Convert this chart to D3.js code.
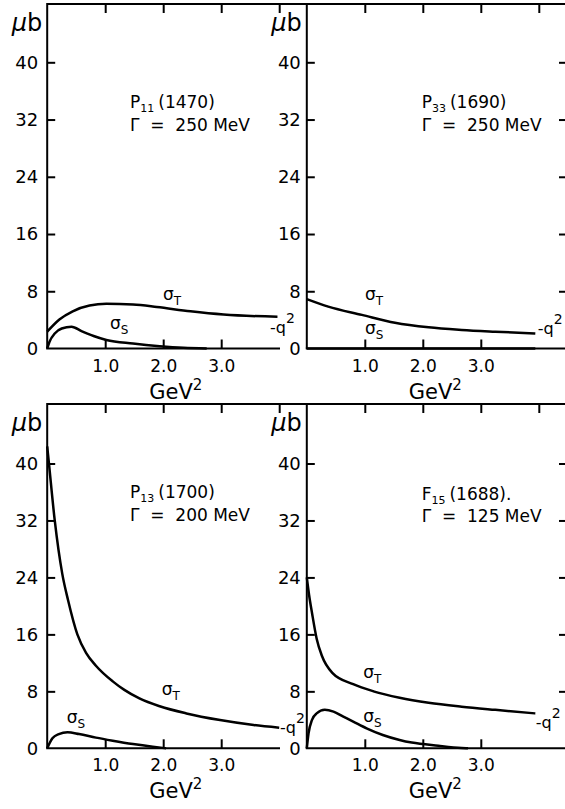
<!DOCTYPE html>
<html>
<head>
<meta charset="utf-8">
<script src="https://cdn.jsdelivr.net/npm/d3@7"></script>
<style>
    body { margin: 0; background: #fff; }
    svg { display: block; }
    text { font-family: "DejaVu Sans", sans-serif; fill: #000; }
</style>
</head>
<body>
<div id="chart"></div>
<script>
const width = 565,
    height = 809,
    unitX = 58;

// axis ticks
const yTicks = [0, 8, 16, 24, 32, 40];
const xTopTicks = [1, 2, 3, 4];
const xBottomTicks = [1, 2, 3];
const xTickLabels = ["1.0", "2.0", "3.0"];

// resonances
const resNames = ["P", "P", "P", "F"];
const resSubs = ["11", "33", "13", "15"];
const resMasses = ["(1470)", "(1690)", "(1700)", "(1688)."];
const resWidths = ["250", "250", "200", "125"];

// P11 (1470)
const p11TQ = [0, 0.21, 0.44, 0.73, 1.02, 1.48, 1.89, 2.47, 3.04, 3.97];
const p11SigmaT = [2.35, 4.05, 5.2, 6.0, 6.24, 6.14, 5.8, 5.2, 4.75, 4.43];
const p11SQ = [0, 0.04, 0.13, 0.25, 0.42, 0.6, 0.8, 1.02, 1.48, 1.94, 2.35, 2.75];
const p11SigmaS = [0, 0.95, 2.1, 2.8, 3.05, 2.4, 1.75, 1.2, 0.7, 0.33, 0.1, 0];

// P33 (1690)
const p33TQ = [0, 0.37, 0.95, 1.52, 2.1, 2.67, 3.25, 3.94];
const p33SigmaT = [6.9, 5.85, 4.7, 3.6, 2.96, 2.6, 2.35, 2.1];
const p33SQ = [0, 3.94];
const p33SigmaS = [0, 0];

// P13 (1700)
const p13TQ = [0, 0.03, 0.13, 0.26, 0.36, 0.52, 0.67, 0.84, 1.13, 1.33, 1.59, 1.94, 2.4, 2.98, 3.56, 4.0];
const p13SigmaT = [42.4, 40, 32, 24.5, 20.8, 16, 13.4, 11.6, 9.4, 8.2, 7.0, 5.9, 4.9, 3.97, 3.27, 2.9];
const p13SQ = [0, 0.09, 0.2, 0.35, 0.55, 0.84, 1.13, 1.48, 1.82, 2.05];
const p13SigmaS = [0, 1.4, 2.0, 2.25, 2.0, 1.5, 1.07, 0.6, 0.22, 0];

// F15 (1688)
const f15TQ = [0, 0.04, 0.09, 0.17, 0.26, 0.44, 0.8, 1.15, 1.6, 2.1, 2.67, 3.25, 3.94];
const f15SigmaT = [24, 21.5, 19, 15.4, 13.0, 10.6, 9.0, 8.0, 7.1, 6.4, 5.85, 5.4, 4.9];
const f15SQ = [0, 0.03, 0.09, 0.17, 0.31, 0.46, 0.63, 0.8, 1.03, 1.31, 1.6, 1.81, 2.27, 2.67, 2.78];
const f15SigmaS = [0, 2.1, 4.0, 4.9, 5.4, 5.15, 4.45, 3.75, 2.8, 1.87, 1.17, 0.8, 0.36, 0.05, 0];

const curvesT = [[p11TQ, p11SigmaT], [p33TQ, p33SigmaT], [p13TQ, p13SigmaT], [f15TQ, f15SigmaT]];
const curvesS = [[p11SQ, p11SigmaS], [p33SQ, p33SigmaS], [p13SQ, p13SigmaS], [f15SQ, f15SigmaS]];

// panel placement, label offsets are relative to (x0, top)
const layout = [
    { x0: 47.2, top: 4, yZero: 348.5, y40: 62.3, topEnd: 306.8, axisEnd: 280, edge: false, pad: 9,
      title: [82.8, 104], gamma: [82.8, 126.5], sT: [115.8, 296], sS: [62.8, 325], q2: [222.8, 329] },
    { x0: 306.8, top: 4, yZero: 348.5, y40: 62.3, topEnd: 566, axisEnd: 566, edge: true, pad: 6,
      title: [114.9, 104], gamma: [114.9, 126.5], sT: [58.2, 296], sS: [58.2, 330], q2: [230.9, 330] },
    { x0: 47.2, top: 404, yZero: 748.3, y40: 463.5, topEnd: 306.8, axisEnd: 280, edge: false, pad: 9,
      title: [82.8, 94], gamma: [82.8, 116.5], sT: [114.5, 291], sS: [19.5, 319], q2: [232.8, 329] },
    { x0: 306.8, top: 404, yZero: 748.3, y40: 463.5, topEnd: 566, axisEnd: 566, edge: true, pad: 6,
      title: [114.9, 95.5], gamma: [114.9, 118], sT: [56.5, 274], sS: [56.5, 317.5], q2: [228.9, 324] }
];

const svg = d3
    .select("#chart")
    .append("svg")
    .attr("width", width)
    .attr("height", height);

function styleAxis(g, size) {
    g.select(".domain").remove();
    g.selectAll(".tick line").attr("stroke-width", 2);
    g.selectAll("text").attr("font-size", size);
}

layout.forEach((p, i) => {
    const xScale = d3
        .scaleLinear()
        .domain([0, 4])
        .range([p.x0, p.x0 + 4 * unitX]);
    const yScale = d3
        .scaleLinear()
        .domain([0, 40])
        .range([p.yZero, p.y40]);
    const g = svg.append("g");

    // frame
    g.append("path")
        .attr("d", "M" + p.x0 + "," + p.yZero + "V" + p.top + "H" + p.topEnd)
        .attr("fill", "none")
        .attr("stroke", "#000")
        .attr("stroke-width", 2);
    g.append("line")
        .attr("x1", p.x0 - 1)
        .attr("x2", p.axisEnd)
        .attr("y1", p.yZero)
        .attr("y2", p.yZero)
        .attr("stroke", "#000")
        .attr("stroke-width", 2);

    // left axis
    g.append("g")
        .attr("transform", "translate(" + p.x0 + ",0)")
        .call(d3.axisLeft(yScale).tickValues(yTicks).tickSize(-8).tickPadding(p.pad))
        .call((a) => styleAxis(a, 18))
        .call((a) => a.selectAll(".tick line").filter((d) => d === 0).remove());

    // bottom axis
    g.append("g")
        .attr("transform", "translate(0," + p.yZero + ")")
        .call(
            d3.axisBottom(xScale)
                .tickValues(xBottomTicks)
                .tickSize(-9)
                .tickPadding(11)
                .tickFormat((d, k) => xTickLabels[k])
        )
        .call((a) => styleAxis(a, 17));

    // top ticks
    g.append("g")
        .attr("transform", "translate(0," + p.top + ")")
        .call(d3.axisTop(xScale).tickValues(xTopTicks).tickSize(-9).tickFormat(""))
        .call((a) => styleAxis(a, 0));

    // right ticks on the outer panels
    if (p.edge) {
        g.append("g")
            .attr("transform", "translate(566,0)")
            .call(d3.axisRight(yScale).tickValues(yTicks.slice(1)).tickSize(-7).tickFormat(""))
            .call((a) => styleAxis(a, 0));
    }

    // unit label
    const mu = g.append("text")
        .attr("x", p.x0 - 5)
        .attr("y", p.top + 27)
        .attr("text-anchor", "end")
        .attr("font-size", 24);
    mu.append("tspan").attr("font-style", "italic").text("μ");
    mu.append("tspan").text("b");

    // x label
    const gev = g.append("text")
        .attr("x", p.x0 + 102)
        .attr("y", p.yZero + 50)
        .attr("font-size", 21);
    gev.append("tspan").text("GeV");
    gev.append("tspan").attr("font-size", 15).attr("dy", -9).text("2");

    // curves
    const line = d3
        .line()
        .x((d) => xScale(d[0]))
        .y((d) => yScale(d[1]))
        .curve(d3.curveMonotoneX);
    [curvesT[i], curvesS[i]].forEach((c) => {
        g.append("path")
            .datum(d3.zip(c[0], c[1]))
            .attr("d", line)
            .attr("fill", "none")
            .attr("stroke", "#000")
            .attr("stroke-width", 2.5)
            .attr("stroke-linejoin", "round");
    });

    // resonance name
    const title = g.append("text")
        .attr("x", p.x0 + p.title[0])
        .attr("y", p.top + p.title[1])
        .attr("font-size", 17);
    title.append("tspan").text(resNames[i]);
    title.append("tspan").attr("font-size", 11).attr("dy", 4).text(resSubs[i]);
    title.append("tspan").attr("dy", -4).attr("dx", 4).text(resMasses[i]);

    g.append("text")
        .attr("x", p.x0 + p.gamma[0])
        .attr("y", p.top + p.gamma[1])
        .attr("font-size", 17)
        .style("white-space", "pre")
        .text("Γ  =  " + resWidths[i] + " MeV");

    // sigma labels
    [["T", p.sT], ["S", p.sS]].forEach((s) => {
        const t = g.append("text")
            .attr("x", p.x0 + s[1][0])
            .attr("y", p.top + s[1][1])
            .attr("font-size", 17);
        t.append("tspan").text("σ");
        t.append("tspan").attr("font-size", 12).attr("dy", 5).text(s[0]);
    });

    // -q^2
    const q = g.append("text")
        .attr("x", p.x0 + p.q2[0])
        .attr("y", p.top + p.q2[1])
        .attr("font-size", 16);
    q.append("tspan").text("-q");
    q.append("tspan").attr("font-size", 14).attr("dy", -10).text("2");
});
</script>
</body>
</html>
